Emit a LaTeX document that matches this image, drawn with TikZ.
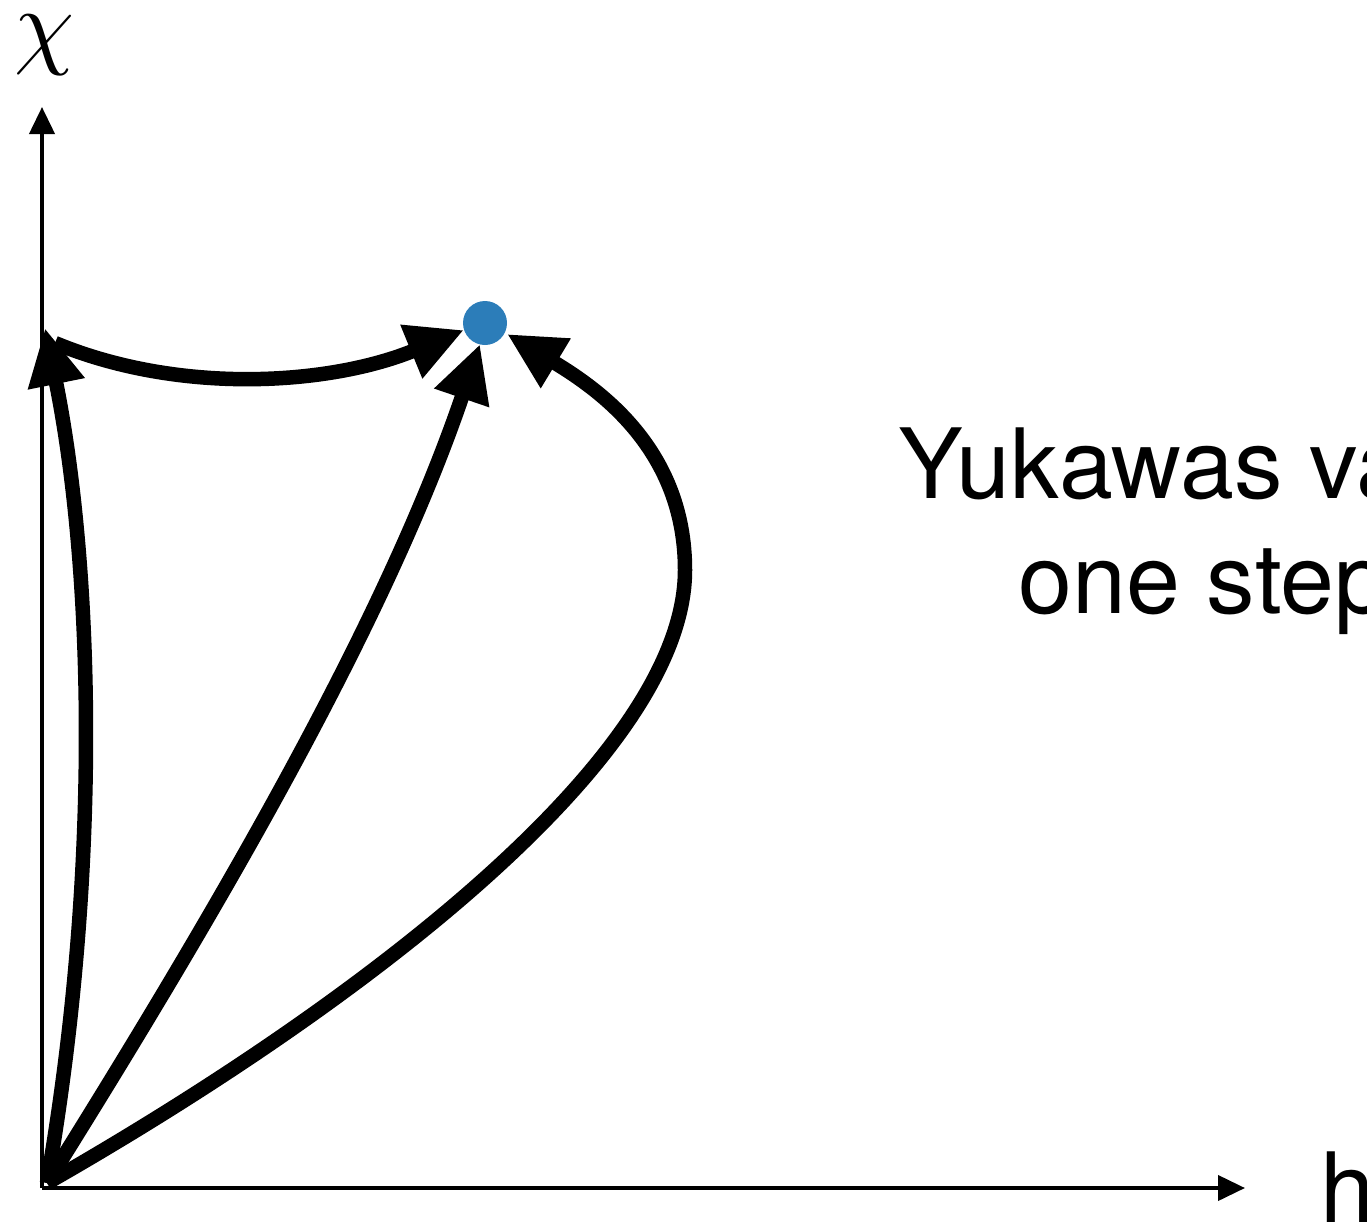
\documentclass[tikz,border=0pt]{standalone}
\usepackage{fontspec}
\setsansfont{TeX Gyre Heros}
\usetikzlibrary{arrows.meta}
\definecolor{dotblue}{RGB}{44,125,185}
\begin{document}
\begin{tikzpicture}[x=1pt,y=-1pt,
  axis/.style={line width=4pt, -{Triangle[length=27pt,width=25pt]}},
  flow/.style={line width=14.5pt, -{Triangle[length=57pt,width=54pt]}},
  lbl/.style={font=\sffamily\fontsize{97}{116}\selectfont, inner sep=0pt, anchor=base west}]
\useasboundingbox (0,0) rectangle (1367,1223);
\clip (0,0) rectangle (1367,1223);
% coordinates
\coordinate (org) at (42,1188);
\coordinate (ytop) at (42,107);
\coordinate (xend) at (1245,1188);
\coordinate (s) at (47,1183);
\coordinate (tA) at (45,328);
\coordinate (sB) at (55,343);
\coordinate (tB) at (464,330);
\coordinate (tC) at (480,344);
\coordinate (tD) at (507,334);
\coordinate (bulge) at (685,570);
% axes
\draw[axis] (org) -- (ytop);
\draw[axis] (org) -- (xend);
\node[inner sep=0pt] (chi) at (45,45) {\scalebox{9.6}{$\chi$}};
\node[lbl] (h) at (1320,1222) {h};
% flows
\draw[flow] (s) .. controls (105,850) and (90,550) .. (tA);
\draw[flow] (sB) .. controls (180,395) and (330,385) .. (tB);
\draw[flow] (s) .. controls (224,900) and (386,620) .. (tC);
\draw[flow] (s) .. controls (350,1010) and (685,760) .. (bulge) .. controls (685,450) and (600,390) .. (tD);
% point
\node[circle, fill=dotblue, minimum size=44pt, inner sep=0pt] (P) at (485,323) {};
% text
\node[lbl] (t1) at (898,498) {Yukawas va};
\node[lbl] (t2) at (1018,613) {one step};
\end{tikzpicture}
\end{document}
